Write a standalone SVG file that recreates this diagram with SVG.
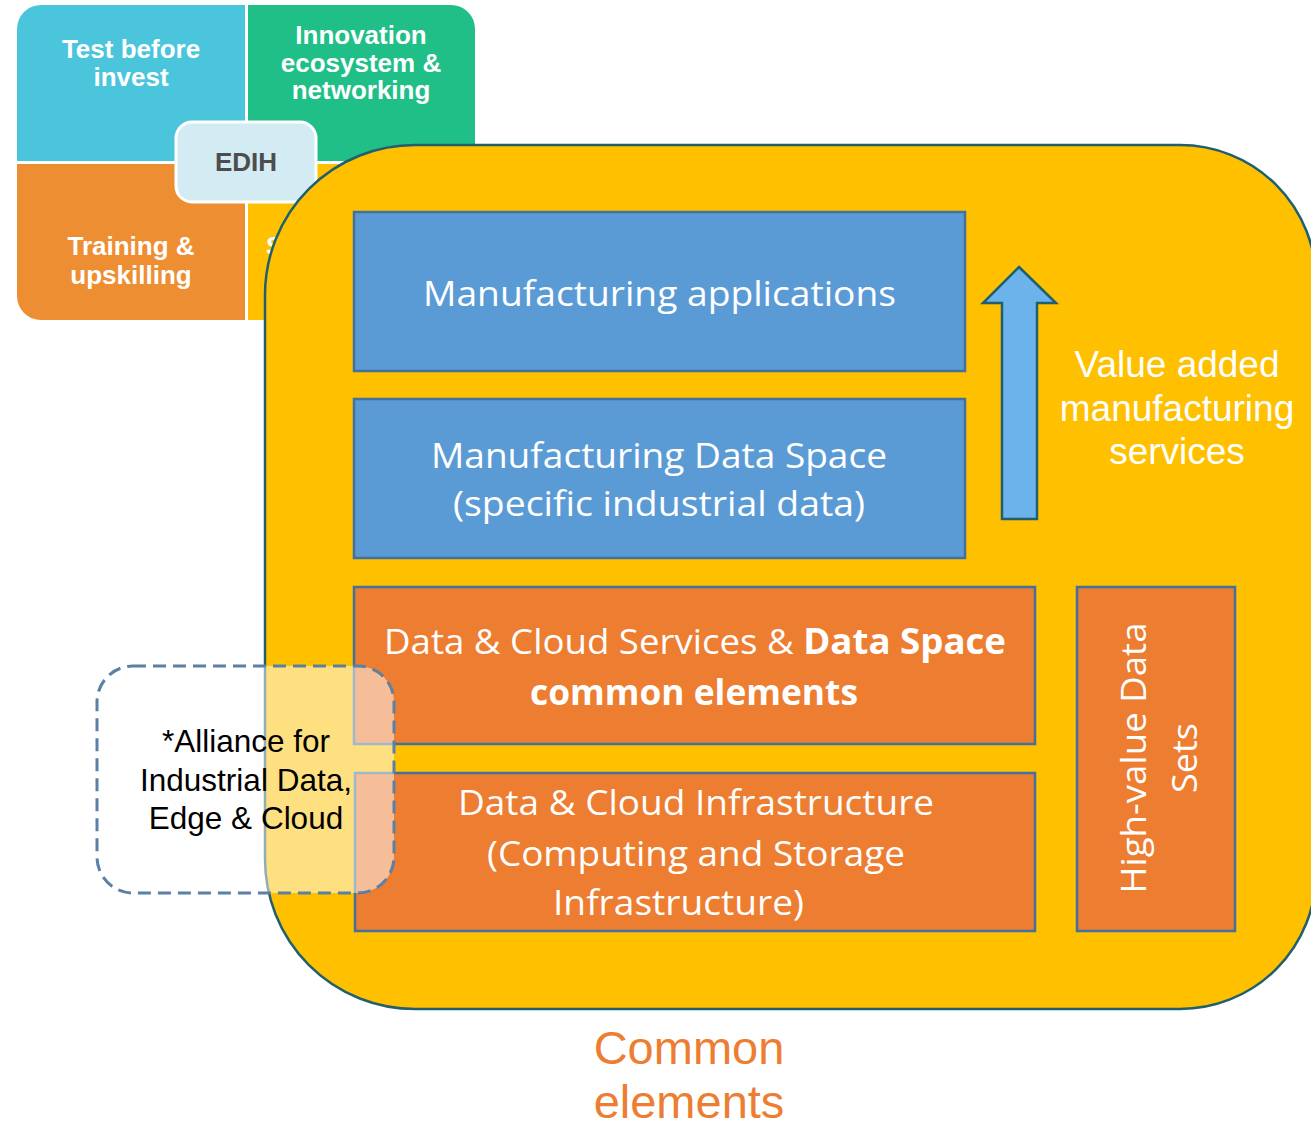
<svg xmlns="http://www.w3.org/2000/svg" width="1311" height="1126" viewBox="0 0 1311 1126">
<defs>
<clipPath id="quadClip"><rect x="17" y="5" width="458" height="315" rx="24"/></clipPath>
</defs>
<style>
.qt{font-family:"Liberation Sans",Arial,sans-serif;font-weight:bold;font-size:26px;fill:#fff;text-anchor:middle}
.cal{font-family:"Open Sans","Noto Sans",sans-serif;font-size:35px;fill:#fff;text-anchor:middle}
.blue{fill:#5B9BD5;stroke:#41719C;stroke-width:2.5}
.orange{fill:#ED7D31;stroke:#41719C;stroke-width:2.5}
.arial{font-family:"Liberation Sans",Arial,sans-serif;text-anchor:middle}
</style>
<rect width="1311" height="1126" fill="#fff"/>
<g id="edih-quadrants">
<g clip-path="url(#quadClip)">
<rect x="17" y="5" width="228" height="156" fill="#4BC5DC"/>
<rect x="248" y="5" width="227" height="156" fill="#20BF88"/>
<rect x="17" y="164" width="228" height="156" fill="#EE8E32"/>
<rect x="248" y="164" width="227" height="156" fill="#FFC000"/>
</g>
<text class="qt" x="131" y="58">Test before</text>
<text class="qt" x="131" y="86">invest</text>
<text class="qt" x="361" y="44">Innovation</text>
<text class="qt" x="361" y="71.5">ecosystem &amp;</text>
<text class="qt" x="361" y="99">networking</text>
<text class="qt" x="131" y="255">Training &amp;</text>
<text class="qt" x="131" y="284">upskilling</text>
<text class="qt" x="266" y="255" style="text-anchor:start">S</text>
</g>
<g id="edih">
<rect x="176" y="122" width="140" height="80" rx="16" fill="#D3EBF3" stroke="#fff" stroke-width="3"/>
<text class="arial" x="246" y="171" font-size="26" font-weight="bold" fill="#4D4D4D">EDIH</text>
</g>
<g id="container">
<path d="M415,145 H1180 A136,136 0 0 1 1316,281 V873 A136,136 0 0 1 1180,1009 H415 A150,150 0 0 1 265,859 V295 A150,150 0 0 1 415,145 Z" fill="#FFC000" stroke="#1F5F6E" stroke-width="2.5"/>
</g>
<g id="manufacturing-applications">
<rect class="blue" x="354" y="212" width="611" height="159"/>
<text class="cal" x="659.5" y="306" textLength="473" lengthAdjust="spacingAndGlyphs">Manufacturing applications</text>
</g>
<g id="manufacturing-data-space">
<rect class="blue" x="354" y="399" width="611" height="159"/>
<text class="cal" x="659" y="468" textLength="456" lengthAdjust="spacingAndGlyphs">Manufacturing Data Space</text>
<text class="cal" x="659" y="516" textLength="412" lengthAdjust="spacingAndGlyphs">(specific industrial data)</text>
</g>
<g id="connectors">
<polygon points="1019,267 1056,303 1037,303 1037,519 1002,519 1002,303 983,303" fill="#6CB2EB" stroke="#1F5F6E" stroke-width="2.5" stroke-linejoin="miter"/>
</g>
<g id="value-added">
<text class="arial" x="1177" y="377" font-size="37" fill="#fff">Value added</text>
<text class="arial" x="1177" y="421" font-size="37" fill="#fff">manufacturing</text>
<text class="arial" x="1177" y="464" font-size="37" fill="#fff">services</text>
</g>
<g id="data-cloud-services">
<rect class="orange" x="354" y="587" width="681" height="157"/>
<text class="cal" x="695" y="654" textLength="622" lengthAdjust="spacingAndGlyphs">Data &amp; Cloud Services &amp; <tspan font-weight="bold">Data Space</tspan></text>
<text class="cal" x="694" y="705" font-weight="bold" textLength="328" lengthAdjust="spacingAndGlyphs">common elements</text>
</g>
<g id="data-cloud-infrastructure">
<rect class="orange" x="355" y="773" width="680" height="158"/>
<text class="cal" x="696" y="815" textLength="476" lengthAdjust="spacingAndGlyphs">Data &amp; Cloud Infrastructure</text>
<text class="cal" x="696" y="866" textLength="418" lengthAdjust="spacingAndGlyphs">(Computing and Storage</text>
<text class="cal" x="678.5" y="915" textLength="251" lengthAdjust="spacingAndGlyphs">Infrastructure)</text>
</g>
<g id="high-value-data-sets">
<rect class="orange" x="1077" y="587" width="158" height="344"/>
<text class="cal" transform="translate(1146,758) rotate(-90)" x="0" y="0" textLength="271" lengthAdjust="spacingAndGlyphs">High-value Data</text>
<text class="cal" transform="translate(1197,758) rotate(-90)" x="0" y="0" textLength="70" lengthAdjust="spacingAndGlyphs">Sets</text>
</g>
<g id="alliance">
<rect x="97" y="666" width="297" height="227" rx="36" fill="#fff" fill-opacity="0.5" stroke="#5B80A5" stroke-width="3" stroke-dasharray="13 7"/>
<text class="arial" x="246" y="752" font-size="31.5" fill="#000">*Alliance for</text>
<text class="arial" x="246" y="790.5" font-size="31.5" fill="#000">Industrial Data,</text>
<text class="arial" x="246" y="829" font-size="31.5" fill="#000">Edge &amp; Cloud</text>
</g>
<g id="common-elements">
<text class="arial" x="689" y="1064" font-size="47" fill="#ED7D31">Common</text>
<text class="arial" x="689" y="1118" font-size="47" fill="#ED7D31">elements</text>
</g>
</svg>
